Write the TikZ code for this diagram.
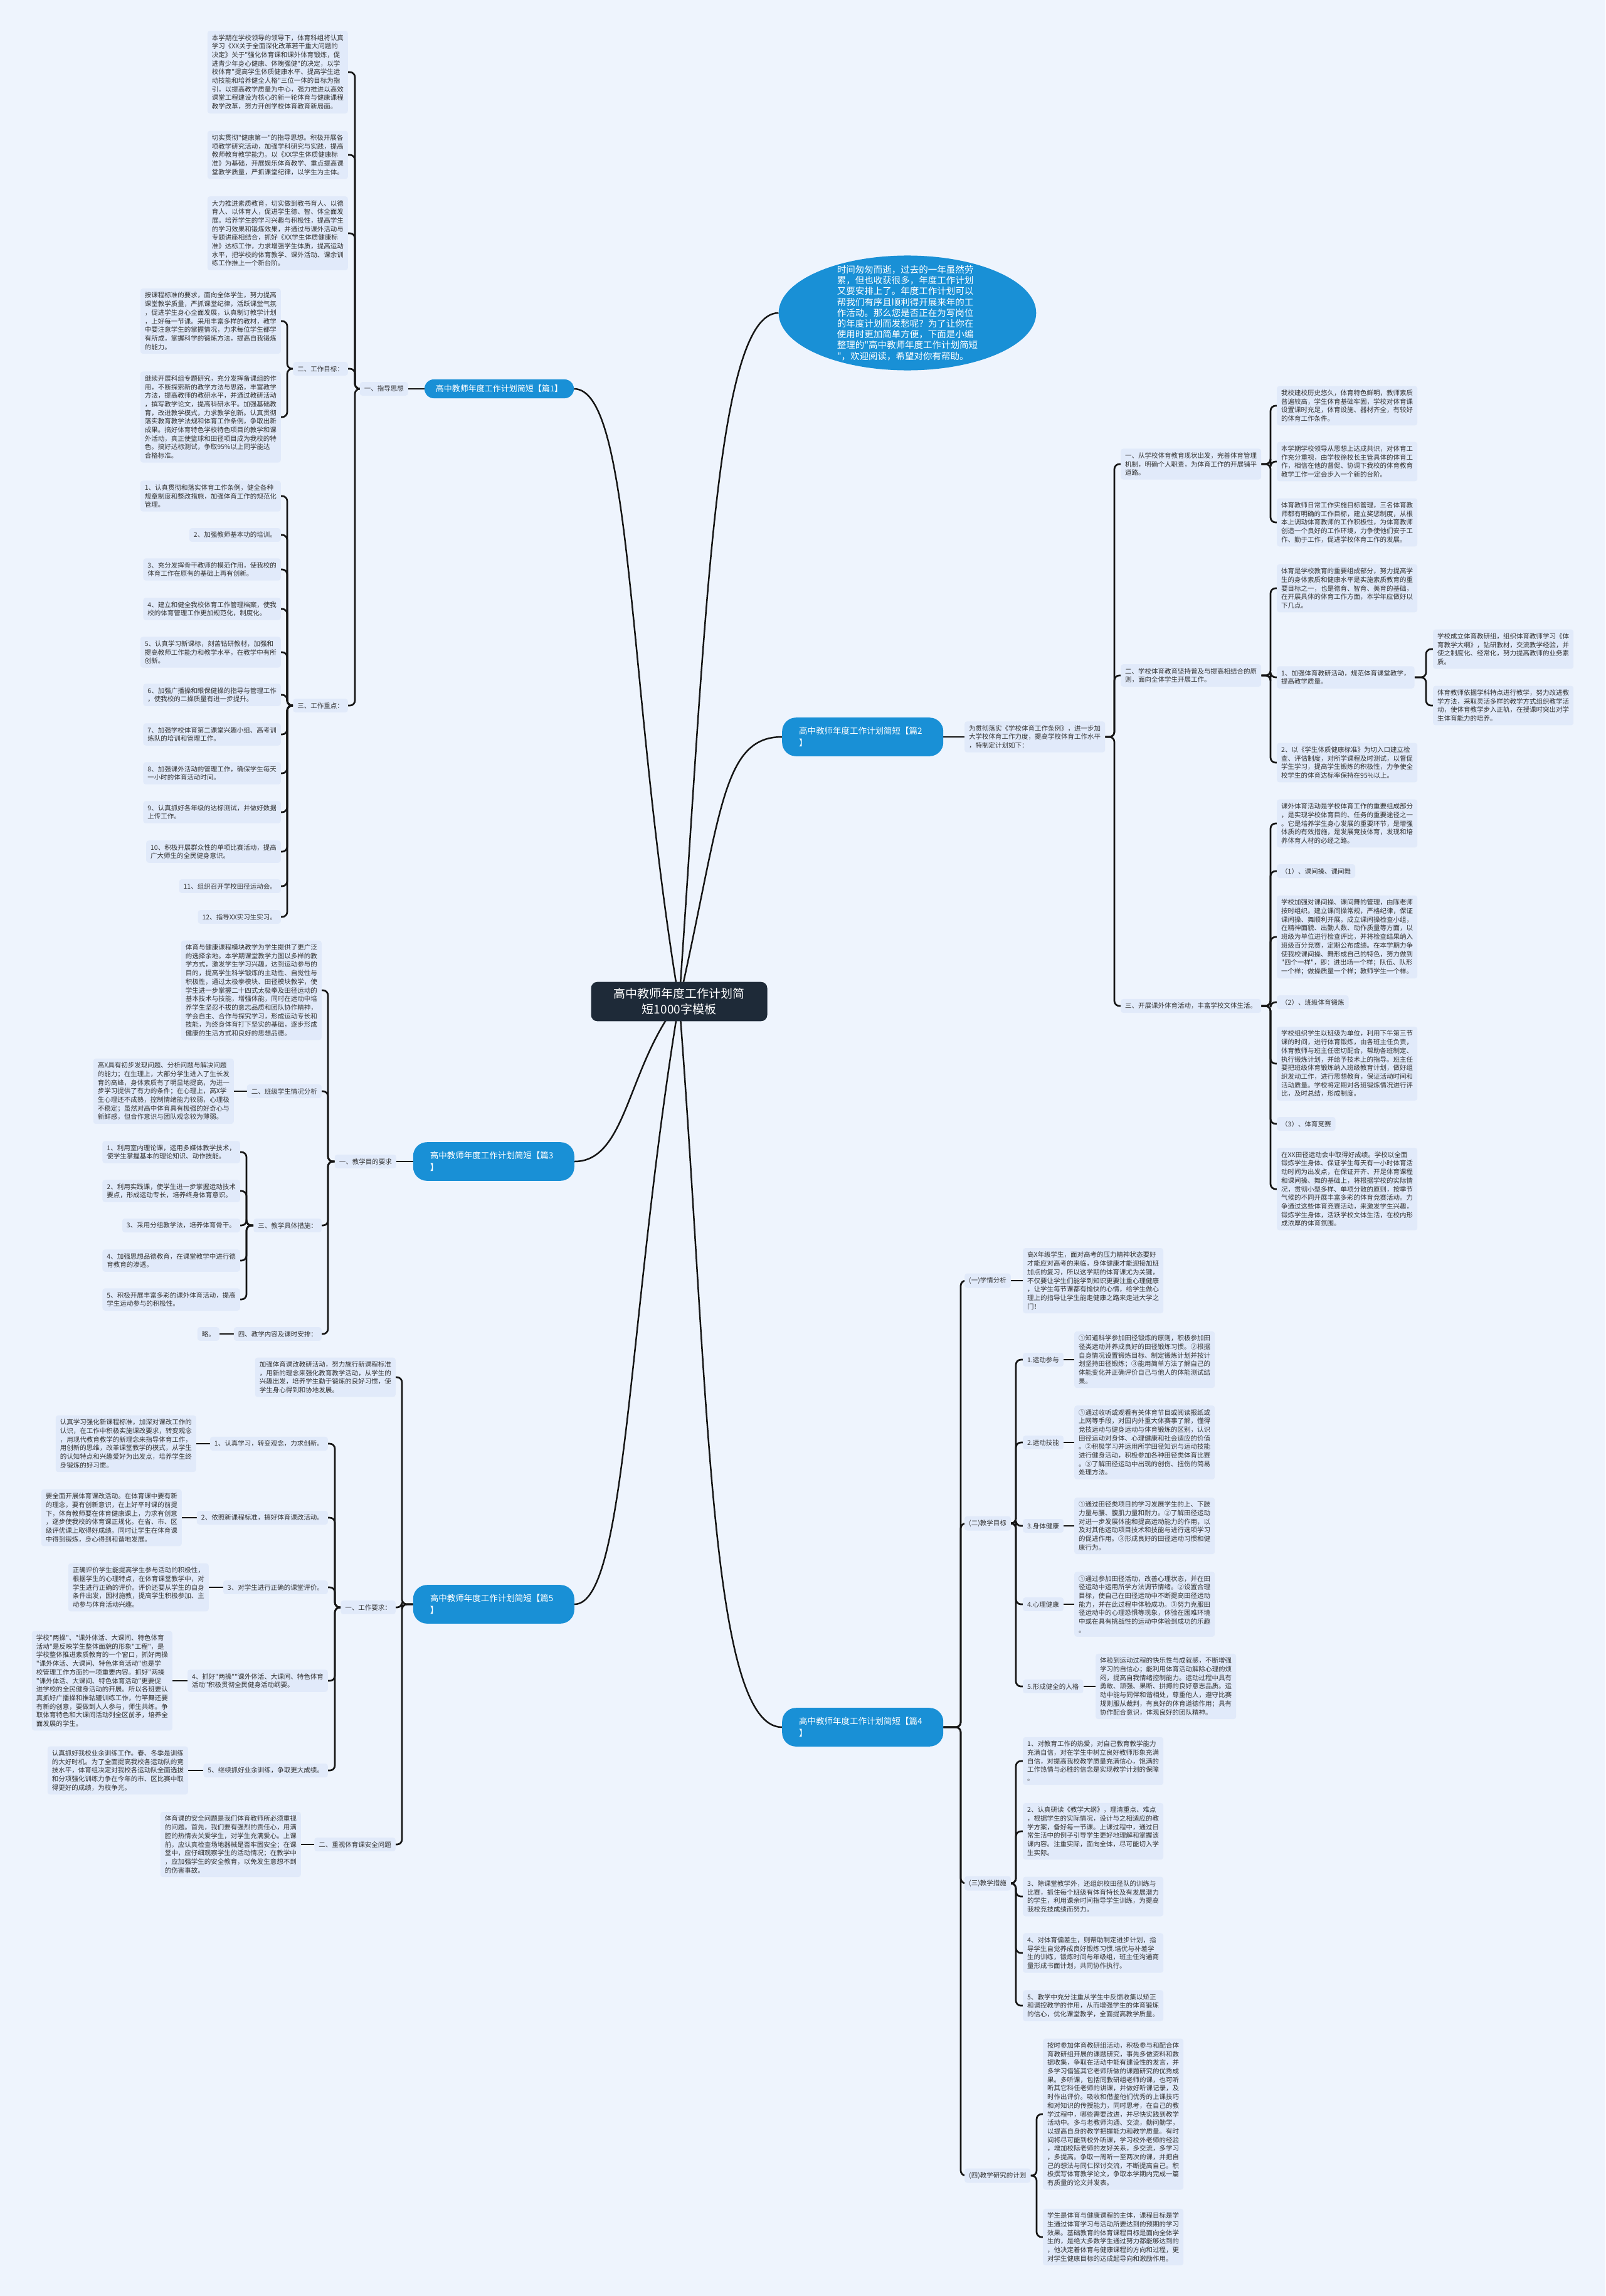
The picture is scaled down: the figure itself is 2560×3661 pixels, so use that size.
\documentclass[tikz,border=0pt]{standalone}
\usepackage{fontspec}
\newfontfamily\cjk{Noto Sans CJK SC}
\usetikzlibrary{shapes.geometric}
\definecolor{bgc}{RGB}{238,244,253}
\definecolor{boxc}{RGB}{225,234,250}
\definecolor{txtc}{RGB}{51,51,51}
\definecolor{bluec}{RGB}{25,144,214}
\definecolor{darkc}{RGB}{30,42,56}
\definecolor{linec}{RGB}{22,22,22}
\pgfdeclarelayer{bgl}
\pgfdeclarelayer{lines}
\pgfsetlayers{bgl,lines,main}
\tikzset{
 txt/.style={font=\cjk\fontsize{10.5pt}{13.7pt}\selectfont, text=txtc, fill=boxc, rounded corners=4pt, inner xsep=7pt, inner ysep=6pt, align=left},
 brA/.style={font=\cjk\fontsize{13pt}{19pt}\selectfont, text=white, fill=bluec, rounded corners=15pt, inner xsep=18pt, inner ysep=9pt},
 brB/.style={font=\cjk\fontsize{13.5pt}{19pt}\selectfont, text=white, fill=bluec, rounded corners=22pt, inner xsep=27pt, inner ysep=15pt, text width=203pt, align=left},
 ctrbox/.style={font=\cjk\fontsize{19pt}{25pt}\selectfont, text=white, fill=darkc, rounded corners=10pt, inner xsep=36pt, inner ysep=10pt, align=center},
 bubble/.style={ellipse, fill=bluec, text=white, font=\cjk\fontsize{14.5pt}{17.2pt}\selectfont, align=left, inner xsep=33pt, inner ysep=-11pt},
 conn/.style={draw=linec, line width=2.7pt, rounded corners=8pt},
 curve/.style={draw=linec, line width=2.5pt}
}
\begin{document}
\begin{tikzpicture}[x=1pt,y=-1pt]
\useasboundingbox (0,0) rectangle (2560,3661);
\begin{pgfonlayer}{bgl}
\fill[bgc] (0,0) rectangle (2560,3661);
\end{pgfonlayer}

% ---------- centre and intro bubble ----------
\node[ctrbox] (ctr) at (1083,1597) {高中教师年度工作计划简\\短1000字模板};
\node[bubble] (bub) at (1447,499) {时间匆匆而逝，过去的一年虽然劳\\累，但也收获很多，年度工作计划\\又要安排上了。年度工作计划可以\\帮我们有序且顺利得开展来年的工\\作活动。那么您是否正在为写岗位\\的年度计划而发愁呢？为了让你在\\使用时更加简单方便，下面是小编\\整理的"高中教师年度工作计划简短\\"，欢迎阅读，希望对你有帮助。};

% ---------- 篇1 ----------
\node[brA] (p1) at (796,620) {高中教师年度工作计划简短【篇1】};
\node[txt,anchor=east] (a1) at (651,620) {一、指导思想};
\coordinate (ba1) at (566,0);
\node[txt,anchor=east] (a1t1) at (555,115) {本学期在学校领导的领导下，体育科组将认真\\学习《XX关于全面深化改革若干重大问题的\\决定》关于"强化体育课和课外体育锻炼，促\\进青少年身心健康、体魄强健"的决定，以学\\校体育"提高学生体质健康水平、提高学生运\\动技能和培养健全人格"三位一体的目标为指\\引，以提高教学质量为中心，强力推进以高效\\课堂工程建设为核心的新一轮体育与健康课程\\教学改革，努力开创学校体育教育新局面。};
\node[txt,anchor=east] (a1t2) at (555,247) {切实贯彻"健康第一"的指导思想。积极开展各\\项教学研究活动，加强学科研究与实践，提高\\教师教育教学能力。以《XX学生体质健康标\\准》为基础，开展娱乐体育教学、重点提高课\\堂教学质量，严抓课堂纪律，以学生为主体。};
\node[txt,anchor=east] (a1t3) at (555,372) {大力推进素质教育，切实做到教书育人、以德\\育人、以体育人，促进学生德、智、体全面发\\展。培养学生的学习兴趣与积极性，提高学生\\的学习效果和锻炼效果，并通过与课外活动与\\专题讲座相结合，抓好《XX学生体质健康标\\准》达标工作，力求增强学生体质，提高运动\\水平，把学校的体育教学、课外活动、课余训\\练工作推上一个新台阶。};
\node[txt,anchor=east] (a2) at (555,588) {二、工作目标：};
\node[txt,anchor=east] (a3) at (555,1125) {三、工作重点：};
\coordinate (ba2) at (458,0);
\node[txt,anchor=east] (a2t1) at (448,512) {按课程标准的要求，面向全体学生，努力提高\\课堂教学质量，严抓课堂纪律，活跃课堂气氛\\，促进学生身心全面发展，认真制订教学计划\\，上好每一节课。采用丰富多样的教材，教学\\中要注意学生的掌握情况，力求每位学生都学\\有所成，掌握科学的锻炼方法，提高自我锻炼\\的能力。};
\node[txt,anchor=east] (a2t2) at (448,665) {继续开展科组专题研究，充分发挥备课组的作\\用，不断探索新的教学方法与思路，丰富教学\\方法，提高教师的教研水平，并通过教研活动\\，撰写教学论文，提高科研水平。加强基础教\\育，改进教学模式，力求教学创新。认真贯彻\\落实教育教学法规和体育工作条例，争取出新\\成果。搞好体育特色学校特色项目的教学和课\\外活动，真正使篮球和田径项目成为我校的特\\色。搞好达标测试，争取95\%以上同学能达\\合格标准。};
\node[txt,anchor=east] (a3i1) at (448,791) {1、认真贯彻和落实体育工作条例，健全各种\\规章制度和整改措施，加强体育工作的规范化\\管理。};
\node[txt,anchor=east] (a3i2) at (448,853) {2、加强教师基本功的培训。};
\node[txt,anchor=east] (a3i3) at (448,908) {3、充分发挥骨干教师的模范作用，使我校的\\体育工作在原有的基础上再有创新。};
\node[txt,anchor=east] (a3i4) at (448,971) {4、建立和健全我校体育工作管理档案，使我\\校的体育管理工作更加规范化，制度化。};
\node[txt,anchor=east] (a3i5) at (448,1040) {5、认真学习新课标，刻苦钻研教材，加强和\\提高教师工作能力和教学水平，在教学中有所\\创新。};
\node[txt,anchor=east] (a3i6) at (448,1108) {6、加强广播操和眼保健操的指导与管理工作\\，使我校的二操质量有进一步提升。};
\node[txt,anchor=east] (a3i7) at (448,1171) {7、加强学校体育第二课堂兴趣小组、高考训\\练队的培训和管理工作。};
\node[txt,anchor=east] (a3i8) at (448,1233) {8、加强课外活动的管理工作，确保学生每天\\一小时的体育活动时间。};
\node[txt,anchor=east] (a3i9) at (448,1295) {9、认真抓好各年级的达标测试，并做好数据\\上传工作。};
\node[txt,anchor=east] (a3i10) at (448,1358) {10、积极开展群众性的单项比赛活动，提高\\广大师生的全民健身意识。};
\node[txt,anchor=east] (a3i11) at (448,1413) {11、组织召开学校田径运动会。};
\node[txt,anchor=east] (a3i12) at (448,1462) {12、指导XX实习生实习。};

% ---------- 篇3 ----------
\node[brB,anchor=east] (p3) at (916,1852) {高中教师年度工作计划简短【篇3\\】};
\node[txt,anchor=east] (c1) at (632,1852) {一、教学目的要求};
\coordinate (bc1) at (523,0);
\node[txt,anchor=east] (c1t) at (513,1579) {体育与健康课程模块教学为学生提供了更广泛\\的选择余地。本学期课堂教学力图以多样的教\\学方式，激发学生学习兴趣，达到运动参与的\\目的，提高学生科学锻炼的主动性、自觉性与\\积极性，通过太极拳模块、田径模块教学，使\\学生进一步掌握二十四式太极拳及田径运动的\\基本技术与技能，增强体能，同时在运动中培\\养学生坚忍不拔的意志品质和团队协作精神，\\学会自主、合作与探究学习，形成运动专长和\\技能，为终身体育打下坚实的基础，逐步形成\\健康的生活方式和良好的思想品德。};
\node[txt,anchor=east] (c2) at (513,1740) {二、班级学生情况分析};
\node[txt,anchor=east] (c3) at (513,1954) {三、教学具体措施：};
\node[txt,anchor=east] (c4) at (513,2127) {四、教学内容及课时安排：};
\node[txt,anchor=east] (c2t) at (373,1740) {高X具有初步发现问题、分析问题与解决问题\\的能力；在生理上，大部分学生进入了生长发\\育的高峰，身体素质有了明显地提高，为进一\\步学习提供了有力的条件；在心理上，高X学\\生心理还不成熟，控制情绪能力较弱，心理极\\不稳定；虽然对高中体育具有极强的好奇心与\\新鲜感，但合作意识与团队观念较为薄弱。};
\coordinate (bc3) at (393,0);
\node[txt,anchor=east] (c3i1) at (383,1837) {1、利用室内理论课，运用多媒体教学技术，\\使学生掌握基本的理论知识、动作技能。};
\node[txt,anchor=east] (c3i2) at (383,1899) {2、利用实践课，使学生进一步掌握运动技术\\要点，形成运动专长，培养终身体育意识。};
\node[txt,anchor=east] (c3i3) at (383,1954) {3、采用分组教学法，培养体育骨干。};
\node[txt,anchor=east] (c3i4) at (383,2010) {4、加强思想品德教育，在课堂教学中进行德\\育教育的渗透。};
\node[txt,anchor=east] (c3i5) at (383,2072) {5、积极开展丰富多彩的课外体育活动，提高\\学生运动参与的积极性。};
\node[txt,anchor=east] (c4t) at (350,2127) {略。};

% ---------- 篇5 ----------
\node[brB,anchor=east] (p5) at (916,2558) {高中教师年度工作计划简短【篇5\\】};
\coordinate (bd) at (641,0);
\node[txt,anchor=east] (d0) at (631,2196) {加强体育课改教研活动，努力施行新课程标准\\，用新的理念来强化教育教学活动，从学生的\\兴趣出发，培养学生勤于锻炼的良好习惯，使\\学生身心得到和协地发展。};
\node[txt,anchor=east] (d1) at (631,2563) {一、工作要求：};
\node[txt,anchor=east] (d2) at (631,2941) {二、重视体育课安全问题};
\coordinate (bd1) at (534,0);
\node[txt,anchor=east] (d1i1) at (523,2302) {1、认真学习，转变观念，力求创新。};
\node[txt,anchor=east] (d1i2) at (523,2420) {2、依照新课程标准，搞好体育课改活动。};
\node[txt,anchor=east] (d1i3) at (523,2531) {3、对学生进行正确的课堂评价。};
\node[txt,anchor=east] (d1i4) at (523,2680) {4、抓好"两操""课外体活、大课间、特色体育\\活动"积极贯彻全民健身活动纲要。};
\node[txt,anchor=east] (d1i5) at (523,2823) {5、继续抓好业余训练，争取更大成绩。};
\node[txt,anchor=east] (d1t1) at (313,2302) {认真学习强化新课程标准，加深对课改工作的\\认识，在工作中积极实施课改要求，转变观念\\，用现代教育教学的新理念来指导体育工作，\\用创新的思维，改革课堂教学的模式，从学生\\的认知特点和兴趣爱好为出发点，培养学生终\\身锻炼的好习惯。};
\node[txt,anchor=east] (d1t2) at (290,2420) {要全面开展体育课改活动。在体育课中要有新\\的理念，要有创新意识，在上好平时课的前提\\下，体育教师要在体育健康课上，力求有创意\\，逐步使我校的体育课正规化。在省、市、区\\级评优课上取得好成绩。同时让学生在体育课\\中得到锻炼，身心得到和谐地发展。};
\node[txt,anchor=east] (d1t3) at (333,2531) {正确评价学生能提高学生参与活动的积极性，\\根据学生的心理特点，在体育课堂教学中，对\\学生进行正确的评价。评价还要从学生的自身\\条件出发，因材施教，提高学生积极参加、主\\动参与体育活动兴趣。};
\node[txt,anchor=east] (d1t4) at (275,2680) {学校"两操"、"课外体活、大课间、特色体育\\活动"是反映学生整体面貌的形象"工程"，是\\学校整体推进素质教育的一个窗口，抓好两操\\"课外体活、大课间、特色体育活动"也是学\\校管理工作方面的一项重要内容。抓好"两操\\"课外体活、大课间、特色体育活动"更要促\\进学校的全民健身活动的开展。所以各班要认\\真抓好广播操和推轱辘训练工作，竹竿舞还要\\有新的创意，要做到人人参与，师生共练。争\\取体育特色和大课间活动列全区前矛，培养全\\面发展的学生。};
\node[txt,anchor=east] (d1t5) at (300,2823) {认真抓好我校业余训练工作。春、冬季是训练\\的大好时机。为了全面提高我校各运动队的竞\\技水平，体育组决定对我校各运动队全面选拔\\和分项强化训练力争在今年的市、区比赛中取\\得更好的成绩，为校争光。};
\node[txt,anchor=east] (d2t) at (480,2941) {体育课的安全问题是我们体育教师所必须重视\\的问题。首先，我们要有强烈的责任心，用满\\腔的热情去关爱学生，对学生充满爱心。上课\\前，应认真检查场地器械是否牢固安全；在课\\堂中，应仔细观察学生的活动情况；在教学中\\，应加强学生的安全教育，以免发生意想不到\\的伤害事故。};

% ---------- 篇2 ----------
\node[brB,anchor=west] (p2) at (1247,1175) {高中教师年度工作计划简短【篇2\\】};
\node[txt,anchor=west] (b0) at (1538,1175) {为贯彻落实《学校体育工作条例》，进一步加\\大学校体育工作力度，提高学校体育工作水平\\，特制定计划如下：};
\coordinate (bb0) at (1777,0);
\node[txt,anchor=west] (b1) at (1787,740) {一、从学校体育教育现状出发，完善体育管理\\机制，明确个人职责，为体育工作的开展铺平\\道路。};
\node[txt,anchor=west] (b2) at (1787,1077) {二、学校体育教育坚持普及与提高相结合的原\\则，面向全体学生开展工作。};
\node[txt,anchor=west] (b3) at (1787,1604) {三、开展课外体育活动，丰富学校文体生活。};
\coordinate (bb1) at (2026,0);
\node[txt,anchor=west] (b1t1) at (2036,647) {我校建校历史悠久，体育特色鲜明，教师素质\\普遍较高，学生体育基础牢固，学校对体育课\\设置课时充足，体育设施、器材齐全，有较好\\的体育工作条件。};
\node[txt,anchor=west] (b1t2) at (2036,736) {本学期学校领导从思想上达成共识，对体育工\\作充分重视，由学校徐校长主管具体的体育工\\作，相信在他的督促、协调下我校的体育教育\\教学工作一定会步入一个新的台阶。};
\node[txt,anchor=west] (b1t3) at (2036,833) {体育教师日常工作实施目标管理，三名体育教\\师都有明确的工作目标，建立奖惩制度，从根\\本上调动体育教师的工作积极性，为体育教师\\创造一个良好的工作环境，力争使他们安于工\\作、勤于工作，促进学校体育工作的发展。};
\node[txt,anchor=west] (b2t1) at (2036,938) {体育是学校教育的重要组成部分，努力提高学\\生的身体素质和健康水平是实施素质教育的重\\要目标之一，也是德育、智育、美育的基础，\\在开展具体的体育工作方面，本学年应做好以\\下几点。};
\node[txt,anchor=west] (b2i1) at (2036,1080) {1、加强体育教研活动，规范体育课堂教学，\\提高教学质量。};
\node[txt,anchor=west] (b2i2) at (2036,1216) {2、以《学生体质健康标准》为切入口建立检\\查、评估制度，对所学课程及时测试，以督促\\学生学习，提高学生锻炼的积极性，力争使全\\校学生的体育达标率保持在95\%以上。};
\coordinate (bb2) at (2274,0);
\node[txt,anchor=west] (b2i1t1) at (2285,1035) {学校成立体育教研组，组织体育教师学习《体\\育教学大纲》，钻研教材，交流教学经验，并\\使之制度化、经常化，努力提高教师的业务素\\质。};
\node[txt,anchor=west] (b2i1t2) at (2285,1125) {体育教师依据学科特点进行教学，努力改进教\\学方法，采取灵活多样的教学方式组织教学活\\动，使体育教学步入正轨，在授课时突出对学\\生体育能力的培养。};
\node[txt,anchor=west] (b3t1) at (2036,1313) {课外体育活动是学校体育工作的重要组成部分\\，是实现学校体育目的、任务的重要途径之一\\。它是培养学生身心发展的重要环节，是增强\\体质的有效措施，是发展竞技体育，发现和培\\养体育人材的必经之路。};
\node[txt,anchor=west] (b3s1) at (2036,1389) {（1）、课间操、课间舞};
\node[txt,anchor=west] (b3t2) at (2036,1494) {学校加强对课间操、课间舞的管理，由陈老师\\按时组织。建立课间操常规，严格纪律，保证\\课间操、舞顺利开展。成立课间操检查小组，\\在精神面貌、出勤人数、动作质量等方面，以\\班级为单位进行检查评比，并将检查结果纳入\\班级百分竞赛，定期公布成绩。在本学期力争\\使我校课间操、舞形成自己的特色，努力做到\\"四个一样"，即：进出场一个样；队伍、队形\\一个样；做操质量一个样；教师学生一个样。};
\node[txt,anchor=west] (b3s2) at (2036,1598) {（2）、班级体育锻炼};
\node[txt,anchor=west] (b3t3) at (2036,1696) {学校组织学生以班级为单位，利用下午第三节\\课的时间，进行体育锻炼，由各班主任负责，\\体育教师与班主任密切配合，帮助各班制定、\\执行锻炼计划，并给予技术上的指导。班主任\\要把班级体育锻炼纳入班级教育计划，做好组\\织发动工作，进行思想教育，保证活动时间和\\活动质量。学校将定期对各班锻炼情况进行评\\比，及时总结，形成制度。};
\node[txt,anchor=west] (b3s3) at (2036,1792) {（3）、体育竞赛};
\node[txt,anchor=west] (b3t4) at (2036,1896) {在XX田径运动会中取得好成绩。学校以全面\\锻炼学生身体、保证学生每天有一小时体育活\\动时间为出发点，在保证开齐、开足体育课程\\和课间操、舞的基础上，将根据学校的实际情\\况，贯彻小型多样、单项分散的原则，按季节\\气候的不同开展丰富多彩的体育竞赛活动。力\\争通过这些体育竞赛活动，来激发学生兴趣，\\锻炼学生身体，活跃学校文体生活，在校内形\\成浓厚的体育氛围。};

% ---------- 篇4 ----------
\node[brB,anchor=west] (p4) at (1247,2754) {高中教师年度工作计划简短【篇4\\】};
\coordinate (be) at (1532,0);
\node[txt,anchor=west] (e1) at (1538,2042) {(一)学情分析};
\node[txt,anchor=west] (e2) at (1538,2429) {(二)教学目标};
\node[txt,anchor=west] (e3) at (1538,3003) {(三)教学措施};
\node[txt,anchor=west] (e4) at (1538,3469) {(四)教学研究的计划};
\node[txt,anchor=west] (e1t) at (1631,2042) {高X年级学生，面对高考的压力精神状态要好\\才能应对高考的来临，身体健康才能迎接加班\\加点的复习，所以这学期的体育课尤为关键，\\不仅要让学生们能学到知识更要注重心理健康\\，让学生每节课都有愉快的心情，给学生做心\\理上的指导让学生能走健康之路来走进大学之\\门！};
\coordinate (be2) at (1620,0);
\node[txt,anchor=west] (e2i1) at (1631,2168) {1.运动参与};
\node[txt,anchor=west] (e2i2) at (1631,2300) {2.运动技能};
\node[txt,anchor=west] (e2i3) at (1631,2433) {3.身体健康};
\node[txt,anchor=west] (e2i4) at (1631,2558) {4.心理健康};
\node[txt,anchor=west] (e2i5) at (1631,2689) {5.形成健全的人格};
\node[txt,anchor=west] (e2t1) at (1713,2168) {①知道科学参加田径锻炼的原则，积极参加田\\径类运动并养成良好的田径锻炼习惯。②根据\\自身情况设置锻炼目标、制定锻炼计划并按计\\划坚持田径锻炼；③能用简单方法了解自己的\\体能变化并正确评价自己与他人的体能测试结\\果。};
\node[txt,anchor=west] (e2t2) at (1713,2300) {①通过收听或观看有关体育节目或阅读报纸或\\上网等手段，对国内外重大体赛事了解，懂得\\竞技运动与健身运动与体育锻炼的区别，认识\\田径运动对身体、心理健康和社会适应的价值\\。②积极学习并运用所学田径知识与运动技能\\进行健身活动，积极参加各种田径类体育比赛\\。③了解田径运动中出现的创伤、扭伤的简易\\处理方法。};
\node[txt,anchor=west] (e2t3) at (1713,2433) {①通过田径类项目的学习发展学生的上、下肢\\力量与腰、腹肌力量和耐力。②了解田径运动\\对进一步发展体能和提高运动能力的作用，以\\及对其他运动项目技术和技能与进行选项学习\\的促进作用。③形成良好的田径运动习惯和健\\康行为。};
\node[txt,anchor=west] (e2t4) at (1713,2558) {①通过参加田径活动，改善心理状态，并在田\\径运动中运用所学方法调节情绪。②设置合理\\目标，使自己在田径运动中不断提高田径运动\\能力，并在此过程中体验成功。③努力克服田\\径运动中的心理恐惧等现象，体验在困难环境\\中或在具有挑战性的运动中体验到成功的乐趣\\。};
\node[txt,anchor=west] (e2t5) at (1747,2689) {体验到运动过程的快乐性与成就感，不断增强\\学习的自信心；能利用体育活动解除心理的烦\\闷，提高自我情绪控制能力。运动过程中具有\\勇敢、顽强、果断、拼搏的良好意志品质。运\\动中能与同伴和谐相处，尊重他人，遵守比赛\\规则服从裁判，有良好的体育道德作用；具有\\协作配合意识，体现良好的团队精神。};
\node[txt,anchor=west] (e3i1) at (1631,2808) {1、对教育工作的热爱，对自己教育教学能力\\充满自信，对在学生中树立良好教师形象充满\\自信，对提高我校教学质量充满信心，饱满的\\工作热情与必胜的信念是实现教学计划的保障\\。};
\node[txt,anchor=west] (e3i2) at (1631,2920) {2、认真研读《教学大纲》，理清重点、难点\\，根据学生的实际情况，设计与之相适应的教\\学方案，备好每一节课。上课过程中，通过日\\常生活中的例子引导学生更好地理解和掌握该\\课内容。注重实际，面向全体，尽可能切入学\\生实际。};
\node[txt,anchor=west] (e3i3) at (1631,3024) {3、除课堂教学外，还组织校田径队的训练与\\比赛，抓住每个班级有体育特长及有发展潜力\\的学生，利用课余时间指导学生训练，为提高\\我校竞技成绩而努力。};
\node[txt,anchor=west] (e3i4) at (1631,3114) {4、对体育偏差生，则帮助制定进步计划，指\\导学生自觉养成良好锻炼习惯.培优与补差学\\生的训练，锻炼时间与年级组，班主任沟通商\\量形成书面计划，共同协作执行。};
\node[txt,anchor=west] (e3i5) at (1631,3198) {5、教学中充分注重从学生中反馈收集以矫正\\和调控教学的作用，从而增强学生的体育锻炼\\的信心，优化课堂教学，全面提高教学质量。};
\coordinate (be4) at (1653,0);
\node[txt,anchor=west] (e4t1) at (1663,3371) {按时参加体育教研组活动，积极参与和配合体\\育教研组开展的课题研究，事先多做资料和数\\据收集，争取在活动中能有建设性的发言，并\\多学习借鉴其它老师所做的课题研究的优秀成\\果。多听课，包括同教研组老师的课，也可听\\听其它科任老师的讲课，并做好听课记录，及\\时作出评价。吸收和借鉴他们优秀的上课技巧\\和对知识的传授能力，同时思考，在自己的教\\学过程中，哪些需要改进，并尽快实践到教学\\活动中。多与老教师沟通、交流，勤问勤学，\\以提高自身的教学把握能力和教学质量。有时\\间将尽可能到校外听课，学习校外老师的经验\\，增加校际老师的友好关系，多交流，多学习\\，多提高。争取一周听一至两次的课，并把自\\己的想法与同仁探讨交流，不断提高自己。积\\极撰写体育教学论文，争取本学期内完成一篇\\有质量的论文并发表。};
\node[txt,anchor=west] (e4t2) at (1663,3567) {学生是体育与健康课程的主体，课程目标是学\\生通过体育学习与活动所要达到的预期的学习\\效果。基础教育的体育课程目标是面向全体学\\生的，是绝大多数学生通过努力都能够达到的\\，他决定着体育与健康课程的方向和过程，更\\对学生健康目标的达成起导向和激励作用。};

% ---------- connectors ----------
\begin{pgfonlayer}{lines}
% main curves
\draw[curve] (ctr.center) .. controls (1125,1000) and (1140,499) .. (bub.west);
\draw[curve] (ctr.center) .. controls (1150,1300) and (1150,1175) .. (p2.west);
\draw[curve] (ctr.center) .. controls (1130,2200) and (1130,2754) .. (p4.west);
\draw[curve] (ctr.center) .. controls (1000,1100) and (1010,620) .. (p1.east);
\draw[curve] (ctr.center) .. controls (1000,1700) and (1000,1852) .. (p3.east);
\draw[curve] (ctr.center) .. controls (1000,2100) and (1000,2558) .. (p5.east);
% 篇1
\draw[conn] (p1.west) -- (a1.east);
\foreach \c in {a1t1,a1t2,a1t3,a2,a3} \draw[conn] (a1.west) -- (a1.west -| ba1) |- (\c.east);
\foreach \c in {a2t1,a2t2} \draw[conn] (a2.west) -- (a2.west -| ba2) |- (\c.east);
\foreach \c in {a3i1,a3i2,a3i3,a3i4,a3i5,a3i6,a3i7,a3i8,a3i9,a3i10,a3i11,a3i12} \draw[conn] (a3.west) -- (a3.west -| ba2) |- (\c.east);
% 篇3
\draw[conn] (p3.west) -- (c1.east);
\foreach \c in {c1t,c2,c3,c4} \draw[conn] (c1.west) -- (c1.west -| bc1) |- (\c.east);
\draw[conn] (c2.west) -- (c2t.east);
\foreach \c in {c3i1,c3i2,c3i3,c3i4,c3i5} \draw[conn] (c3.west) -- (c3.west -| bc3) |- (\c.east);
\draw[conn] (c4.west) -- (c4t.east);
% 篇5
\foreach \c in {d0,d1,d2} \draw[conn] (p5.west) -- (p5.west -| bd) |- (\c.east);
\foreach \c in {d1i1,d1i2,d1i3,d1i4,d1i5} \draw[conn] (d1.west) -- (d1.west -| bd1) |- (\c.east);
\draw[conn] (d1i1.west) -- (d1t1.east);
\draw[conn] (d1i2.west) -- (d1t2.east);
\draw[conn] (d1i3.west) -- (d1t3.east);
\draw[conn] (d1i4.west) -- (d1t4.east);
\draw[conn] (d1i5.west) -- (d1t5.east);
\draw[conn] (d2.west) -- (d2t.east);
% 篇2
\draw[conn] (p2.east) -- (b0.west);
\foreach \c in {b1,b2,b3} \draw[conn] (b0.east) -- (b0.east -| bb0) |- (\c.west);
\foreach \c in {b1t1,b1t2,b1t3} \draw[conn] (b1.east) -- (b1.east -| bb1) |- (\c.west);
\foreach \c in {b2t1,b2i1,b2i2} \draw[conn] (b2.east) -- (b2.east -| bb1) |- (\c.west);
\foreach \c in {b2i1t1,b2i1t2} \draw[conn] (b2i1.east) -- (b2i1.east -| bb2) |- (\c.west);
\foreach \c in {b3t1,b3s1,b3t2,b3s2,b3t3,b3s3,b3t4} \draw[conn] (b3.east) -- (b3.east -| bb1) |- (\c.west);
% 篇4
\foreach \c in {e1,e2,e3,e4} \draw[conn] (p4.east) -- (p4.east -| be) |- (\c.west);
\draw[conn] (e1.east) -- (e1t.west);
\foreach \c in {e2i1,e2i2,e2i3,e2i4,e2i5} \draw[conn] (e2.east) -- (e2.east -| be2) |- (\c.west);
\draw[conn] (e2i1.east) -- (e2t1.west);
\draw[conn] (e2i2.east) -- (e2t2.west);
\draw[conn] (e2i3.east) -- (e2t3.west);
\draw[conn] (e2i4.east) -- (e2t4.west);
\draw[conn] (e2i5.east) -- (e2t5.west);
\foreach \c in {e3i1,e3i2,e3i3,e3i4,e3i5} \draw[conn] (e3.east) -- (e3.east -| be2) |- (\c.west);
\foreach \c in {e4t1,e4t2} \draw[conn] (e4.east) -- (e4.east -| be4) |- (\c.west);
\end{pgfonlayer}
\end{tikzpicture}
\end{document}
